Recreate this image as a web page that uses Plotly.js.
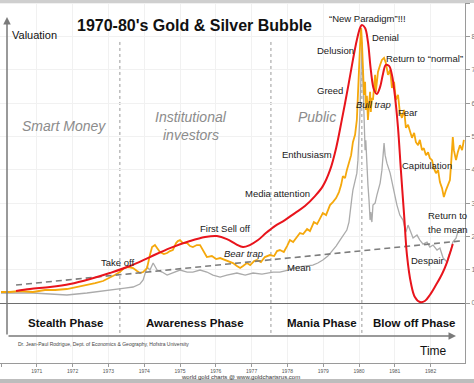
<!DOCTYPE html>
<html><head><meta charset="utf-8">
<script src="https://cdn.plot.ly/plotly-3.0.1.min.js"></script>
<style>html,body{margin:0;padding:0;background:#fff;}#chart{width:474px;height:383px;}</style>
</head><body><div id="chart"></div>
<script>
// ---------- DATA ----------
const goldYears = [1970.00,1970.25,1970.53,1970.89,1971.23,1971.51,1971.84,1972.12,1972.40,1972.63,1972.85,1973.04,1973.18,1973.32,1973.44,1973.55,1973.69,1973.80,1973.88,1973.97,1974.08,1974.16,1974.22,1974.30,1974.39,1974.44,1974.55,1974.64,1974.72,1974.80,1974.89,1974.94,1975.00,1975.08,1975.20,1975.28,1975.36,1975.47,1975.56,1975.67,1975.75,1975.89,1976.01,1976.12,1976.26,1976.37,1976.48,1976.59,1976.68,1976.76,1976.87,1976.96,1977.07,1977.15,1977.26,1977.37,1977.51,1977.63,1977.71,1977.79,1977.90,1977.99,1978.07,1978.16,1978.27,1978.35,1978.44,1978.55,1978.63,1978.74,1978.83,1978.91,1978.99,1979.08,1979.19,1979.27,1979.36,1979.44,1979.50,1979.55,1979.61,1979.66,1979.72,1979.78,1979.83,1979.89,1979.94,1979.97,1980.00,1980.03,1980.06,1980.08,1980.11,1980.14,1980.17,1980.19,1980.22,1980.25,1980.28,1980.31,1980.33,1980.36,1980.39,1980.42,1980.45,1980.47,1980.50,1980.53,1980.59,1980.64,1980.70,1980.75,1980.81,1980.87,1980.92,1980.98,1981.03,1981.09,1981.14,1981.20,1981.26,1981.31,1981.37,1981.42,1981.48,1981.54,1981.59,1981.65,1981.70,1981.76,1981.81,1981.87,1981.93,1981.98,1982.04,1982.09,1982.15,1982.21,1982.26,1982.32,1982.37,1982.43,1982.49,1982.54,1982.57,1982.60,1982.62,1982.65,1982.71,1982.76,1982.82,1982.88,1982.93];
const goldValues = [0.33,0.33,0.36,0.33,0.39,0.39,0.42,0.48,0.54,0.60,0.66,0.75,0.84,0.93,1.05,1.08,1.05,0.96,0.90,0.93,1.05,1.44,1.68,1.74,1.62,1.53,1.47,1.50,1.56,1.59,1.80,1.86,1.89,1.80,1.80,1.71,1.68,1.74,1.74,1.53,1.38,1.41,1.32,1.35,1.29,1.26,1.20,1.11,1.05,1.11,1.20,1.14,1.26,1.29,1.23,1.38,1.44,1.41,1.56,1.59,1.53,1.71,1.89,1.83,2.01,2.10,2.07,2.22,2.16,2.43,2.37,2.52,2.70,2.64,2.94,3.03,3.15,3.33,3.54,3.81,3.75,3.99,4.23,4.44,4.83,5.05,5.50,6.10,7.00,7.75,8.26,7.90,6.85,6.25,6.64,5.80,6.22,5.50,5.95,6.34,5.74,6.16,6.10,6.46,6.85,6.34,6.70,6.94,7.15,7.30,7.36,7.21,6.85,7.00,6.46,6.64,6.10,6.25,5.74,5.56,5.80,5.26,5.35,5.20,4.96,5.11,4.83,4.74,4.90,4.59,4.65,4.44,4.53,4.35,4.29,4.05,3.90,3.99,3.63,3.45,3.18,3.39,3.54,3.69,4.14,4.65,4.98,4.59,4.29,4.53,4.74,4.59,4.90];

const silverYears = [1970.00,1970.53,1970.89,1971.37,1971.84,1972.40,1972.77,1973.04,1973.46,1973.69,1973.88,1973.97,1974.08,1974.16,1974.25,1974.36,1974.50,1974.64,1974.86,1975.00,1975.20,1975.36,1975.56,1975.75,1975.92,1976.12,1976.31,1976.59,1976.82,1977.04,1977.29,1977.60,1977.79,1978.02,1978.27,1978.49,1978.71,1978.85,1978.99,1979.13,1979.27,1979.36,1979.47,1979.55,1979.66,1979.72,1979.75,1979.80,1979.83,1979.89,1979.94,1979.97,1980.00,1980.03,1980.06,1980.08,1980.11,1980.14,1980.17,1980.19,1980.22,1980.25,1980.28,1980.31,1980.33,1980.36,1980.39,1980.45,1980.50,1980.59,1980.64,1980.67,1980.70,1980.73,1980.78,1980.87,1980.95,1981.00,1981.06,1981.14,1981.23,1981.31,1981.37,1981.42,1981.51,1981.62,1981.70,1981.79,1981.90,1981.98,1982.07,1982.18,1982.26,1982.35,1982.46,1982.51,1982.57,1982.62,1982.71,1982.76,1982.82,1982.90];
const silverValues = [0.30,0.30,0.30,0.27,0.24,0.30,0.36,0.39,0.45,0.48,0.57,0.69,1.08,0.99,1.20,0.99,0.93,0.84,0.93,0.99,0.93,0.93,0.99,0.93,0.84,0.78,0.84,0.90,0.84,0.90,0.87,0.93,0.93,0.99,1.08,1.11,1.14,1.20,1.29,1.41,1.59,1.71,1.89,2.01,2.19,2.43,2.79,3.15,3.39,3.63,3.90,4.29,4.89,5.80,7.00,7.75,6.70,5.20,4.59,4.89,3.99,3.54,3.09,2.49,2.73,2.43,2.94,3.00,3.24,3.60,3.99,4.59,4.80,4.44,4.20,3.90,3.54,3.24,2.94,2.64,2.49,2.13,2.34,2.19,1.95,2.04,1.89,1.77,1.83,1.68,1.74,1.59,1.65,1.35,1.23,1.44,1.59,1.83,1.95,2.13,2.19,2.25];

const bubbleYears = [1970.42,1970.81,1971.37,1971.93,1972.49,1973.04,1973.60,1974.16,1974.72,1975.28,1975.70,1976.03,1976.31,1976.56,1976.76,1976.95,1977.18,1977.40,1977.65,1977.93,1978.21,1978.49,1978.77,1978.99,1979.19,1979.36,1979.52,1979.69,1979.83,1979.94,1980.03,1980.08,1980.17,1980.25,1980.33,1980.42,1980.50,1980.59,1980.67,1980.75,1980.84,1980.92,1981.00,1981.09,1981.17,1981.26,1981.34,1981.45,1981.56,1981.70,1981.84,1981.98,1982.15,1982.32,1982.46,1982.62];
const bubbleValues = [0.36,0.42,0.48,0.57,0.72,0.90,1.11,1.38,1.65,1.86,1.98,2.01,1.92,1.77,1.68,1.74,1.89,2.10,2.31,2.49,2.70,2.91,3.21,3.51,3.99,4.65,5.50,6.46,7.30,7.90,8.26,8.35,8.26,7.84,7.00,6.40,6.28,6.49,6.88,7.15,7.12,6.85,6.25,5.26,3.99,2.64,1.44,0.60,0.18,0.03,0.06,0.24,0.54,0.87,1.23,1.77];

const meanYears = [1970.42,1982.82];
const meanValues = [0.54,1.86];

const phaseBounds = [1973.32,1977.54,1980.08];
const phaseNames = ['Stealth Phase','Awareness Phase','Mania Phase','Blow off Phase'];
const crowdLabels = ['Smart Money','Institutional','investors','Public'];
const stageLabels = ['\u201cNew Paradigm\u201d!!!','Delusion','Denial','Return to \u201cnormal\u201d','Greed','Bull trap','Fear','Enthusiasm','Capitulation','Media attention','Return to','the mean','First Sell off','Bear trap','Take off','Despair','Mean'];

const yearTicks = [1970,1971,1972,1973,1974,1975,1976,1977,1978,1979,1980,1981,1982];
const yearLabels = ['1970','1971','1972','1973','1974','1975','1976','1977','1978','1979','1980','1981','1982'];
const valueTicks = [0,1,2,3,4,5,6,7,8,9];
const valueLabels = ['0','1','2','3','4','5','6','7','8','9'];

// ---------- LAYOUT ----------
const PW = 465, PH = 363;
const fx = x => x / PW, fy = y => 1 - y / PH;
const SANS = '"Liberation Sans", Arial, sans-serif';

function lab(text, x, y, opt) {
  opt = opt || {};
  return {text: text, xref: 'paper', yref: 'paper', x: fx(x), y: fy(y),
    xanchor: opt.xa || 'left', yanchor: 'middle', showarrow: false,
    font: {family: SANS, size: opt.size || 9.5, color: opt.color || '#222',
           weight: opt.weight || 'normal', style: opt.style || 'normal'}};
}

const stagePos = [[327,18],[315,51],[370,38],[384,58],[315,90],[354,105,'i'],[396,112],[280,154],[400,165],[243,193],[426,215],[426,229],[198,228],[222,253,'i'],[99,262],[409,260],[285,267]];
const annotations = [];
annotations.push(lab('1970-80\'s Gold & Silver Bubble', 75, 25, {size: 16, weight: 'bold', color: '#111'}));
annotations.push(lab('Valuation', 10, 35, {size: 11, color: '#111'}));
annotations.push(lab(crowdLabels[0], 20, 126, {size: 14, style: 'italic', color: '#8c8c8c'}));
annotations.push(lab(crowdLabels[1], 191, 117, {size: 14, style: 'italic', color: '#8c8c8c', xa: 'center'}));
annotations.push(lab(crowdLabels[2], 191, 135, {size: 14, style: 'italic', color: '#8c8c8c', xa: 'center'}));
annotations.push(lab(crowdLabels[3], 296, 117, {size: 14, style: 'italic', color: '#8c8c8c'}));
stageLabels.forEach((t, i) => {
  const p = stagePos[i];
  annotations.push(lab(t, p[0], p[1], {size: 9.5, style: p[2] === 'i' ? 'italic' : 'normal', color: '#1a1a1a'}));
});
const phasePos = [26, 144, 285, 371];
phaseNames.forEach((t, i) => annotations.push(lab(t, phasePos[i], 323, {size: 11.5, weight: 'bold', color: '#111'})));
annotations.push(lab('Time', 418, 351, {size: 12, color: '#111'}));
annotations.push(lab('Dr. Jean-Paul Rodrigue, Dept. of Economics & Geography, Hofstra University', 16, 344, {size: 5, color: '#444'}));
annotations.push(lab('world gold charts @ www.goldchartsrus.com', 179, 377, {size: 6, color: '#333'}));
// arrows
annotations.push({text: '', xref: 'paper', yref: 'paper', x: fx(456), y: fy(336), ax: -449, ay: 0,
  showarrow: true, arrowhead: 2, arrowsize: 1, arrowwidth: 1.5, arrowcolor: '#7a7a7a'});
annotations.push({text: '', xref: 'paper', yref: 'paper', x: fx(7), y: fy(17), ax: 0, ay: 319,
  showarrow: true, arrowhead: 2, arrowsize: 1, arrowwidth: 1.5, arrowcolor: '#7a7a7a'});

const shapes = phaseBounds.map(b => ({type: 'line', xref: 'x', yref: 'y', x0: b, x1: b, y0: -0.9, y1: 7.84,
  line: {color: '#9a9a9a', width: 1, dash: 'dot'}, layer: 'below'}));
shapes.push({type: 'rect', xref: 'paper', yref: 'paper', x0: 0, x1: 474 / PW, y0: fy(3), y1: 1, fillcolor: '#cfcfcf', line: {width: 0}});
shapes.push({type: 'rect', xref: 'paper', yref: 'paper', x0: 0, x1: 474 / PW, y0: fy(383), y1: fy(379), fillcolor: '#bdbdbd', line: {width: 0}});

const traces = [
  {x: silverYears, y: silverValues, type: 'scatter', mode: 'lines', line: {color: '#ababab', width: 1.3}, hoverinfo: 'skip'},
  {x: goldYears, y: goldValues, type: 'scatter', mode: 'lines', line: {color: '#f5a80c', width: 1.8}, hoverinfo: 'skip'},
  {x: meanYears, y: meanValues, type: 'scatter', mode: 'lines', line: {color: '#7d7d7d', width: 1.6, dash: '6px,4px'}, hoverinfo: 'skip'},
  {x: bubbleYears, y: bubbleValues, type: 'scatter', mode: 'lines', line: {color: '#e8141c', width: 2, shape: 'spline', smoothing: 1}, hoverinfo: 'skip'}
];

const layout = {
  width: 474, height: 383, showlegend: false,
  margin: {l: 0, r: 9, t: 0, b: 20, pad: 0},
  paper_bgcolor: '#ffffff', plot_bgcolor: '#ffffff',
  xaxis: {range: [1970 - 1 / 35.8, 1970 + 464 / 35.8], tickvals: yearTicks, ticktext: yearLabels,
    showgrid: true, gridcolor: '#f1f1f1', gridwidth: 1, zeroline: false,
    showline: true, linecolor: '#9a9a9a', linewidth: 1, ticks: 'outside', ticklen: 3, tickcolor: '#9a9a9a',
    tickfont: {family: SANS, size: 5, color: '#555'}, fixedrange: true},
  yaxis: {range: [(303 - 363) / 33.3, 303 / 33.3], tickvals: valueTicks, ticktext: valueLabels, side: 'right',
    showgrid: true, gridcolor: '#f1f1f1', zeroline: true, zerolinecolor: '#6e6e6e', zerolinewidth: 1,
    showline: true, linecolor: '#9a9a9a', linewidth: 1, ticks: 'outside', ticklen: 4, tickcolor: '#9a9a9a',
    tickfont: {family: SANS, size: 7, color: '#777'}, fixedrange: true},
  annotations: annotations, shapes: shapes
};
Plotly.newPlot('chart', traces, layout, {staticPlot: true, displayModeBar: false});
</script></body></html>
